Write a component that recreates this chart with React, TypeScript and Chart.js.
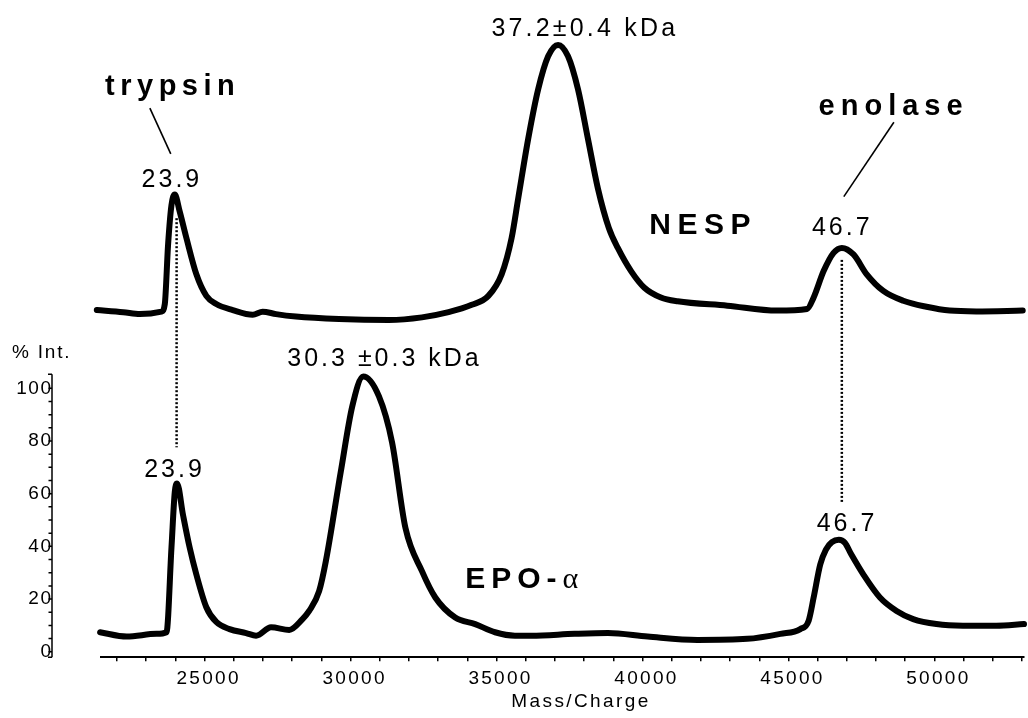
import React, { useEffect, useRef } from "react";
import { Chart, registerables } from "chart.js";

Chart.register(...registerables);

const FONT = '"Liberation Sans", Arial, Helvetica, sans-serif';
const SERIF = '"Liberation Serif", "DejaVu Serif", serif';

// ---- data: NESP trace (upper spectrum, relative intensity) ----
const nespMass = [
  21306, 22214, 22783, 23523, 23636, 23748, 23864, 23977, 24147, 24376,
  24717, 25058, 25399, 25965, 26647, 26988, 27445, 28127, 29604, 31310,
  32445, 33356, 34151, 34720, 35174, 35515, 35743, 36084, 36426, 36767,
  37108, 37449, 37790, 38131, 38472, 38847, 39154, 39608, 40065, 40631,
  41201, 42906, 44611, 45635, 45863, 46204, 46545, 46828, 47227, 47681,
  48250, 48932, 49727, 50522, 51432, 53025,
];
const nespIntensity = [
  6.3, 5.5, 4.8, 5.7, 8.5, 30.3, 44.8, 48.7, 42.4, 32.7,
  19.4, 11.5, 8.5, 6.3, 4.6, 5.7, 4.8, 3.9, 3.0, 2.65,
  3.6, 5.5, 8.2, 11.5, 19.4, 32.7, 47.3, 69.1, 87.3, 99.4,
  103.6, 99.4, 87.3, 69.1, 50.9, 36.4, 29.1, 20.6, 14.5, 10.9,
  9.5, 7.9, 6.1, 6.7, 10.9, 20.6, 27.3, 29.1, 26.7, 19.4,
  13.3, 9.7, 7.5, 6.1, 5.8, 6.1,
];

// ---- data: EPO-alpha trace (lower spectrum, % Int.) ----
const epoMass = [
  21419, 22330, 23353, 23694, 23864, 23977, 24055, 24260, 24488, 24717,
  25058, 25399, 25853, 26422, 26763, 27275, 27899, 28353, 28581, 28922,
  29151, 29662, 30058, 30433, 30969, 31422, 31879, 32445, 32902, 33584,
  34267, 34949, 35631, 36197, 37677, 38813, 40177, 41882, 43588, 44724,
  45406, 45692, 45863, 46088, 46283, 46488, 46726, 46931, 47150, 47568,
  48134, 48704, 49273, 50068, 50979, 52114, 53069,
];
const epoIntensity = [
  7.4, 5.75, 6.8, 7.4, 39.5, 60.6, 63.9, 51.9, 39.5, 29.3,
  16.9, 11.3, 8.6, 7.1, 6.1, 9.3, 8.3, 12.4, 15.5, 23.0,
  34.3, 68.2, 93.2, 104.5, 97.0, 79.4, 47.0, 30.6, 20.6, 13.0,
  10.5, 7.4, 6.1, 6.1, 6.8, 7.1, 5.75, 4.5, 4.9, 6.8,
  8.6, 11.8, 20.6, 33.1, 38.8, 41.6, 42.5, 41.4, 37.0, 29.3,
  20.6, 15.5, 12.4, 10.5, 9.9, 9.9, 10.5,
];

// ---- ticks ----
const xTickValues = [
  22000, 23000, 24000, 25000, 26000, 27000, 28000, 29000, 30000, 31000,
  32000, 33000, 34000, 35000, 36000, 37000, 38000, 39000, 40000, 41000,
  42000, 43000, 44000, 45000, 46000, 47000, 48000, 49000, 50000, 51000,
  52000, 53000,
];
const xTickLabels = [25000, 30000, 35000, 40000, 45000, 50000];
const yTickLabels = [0, 20, 40, 60, 80, 100];
const yMinorTicks = [0, 5, 10, 15, 20, 25, 30, 35, 40, 45, 50, 55, 60, 65, 70, 75, 80, 85, 90, 95, 100];

// ---- annotations (data coordinates) ----
type Note = {
  text: string;
  x: number;
  y: number;
  axis: "y" | "y2";
  size: number;
  bold: boolean;
  spacing: number;
  tail?: string;
};
const notes: Note[] = [
  { text: "trypsin", x: 21589, y: 85.1, axis: "y2", size: 29, bold: true, spacing: 5.5 },
  { text: "23.9", x: 22841, y: 51.5, axis: "y2", size: 25, bold: false, spacing: 3 },
  { text: "37.2\u00b10.4 kDa", x: 34823, y: 106.9, axis: "y2", size: 25, bold: false, spacing: 3.2 },
  { text: "NESP", x: 40235, y: 34.2, axis: "y2", size: 30, bold: true, spacing: 6.5 },
  { text: "enolase", x: 46033, y: 77.8, axis: "y2", size: 29, bold: true, spacing: 6 },
  { text: "46.7", x: 45805, y: 33.7, axis: "y2", size: 25, bold: false, spacing: 3 },
  { text: "30.3 \u00b10.3 kDa", x: 27831, y: 108.3, axis: "y", size: 25, bold: false, spacing: 3 },
  { text: "23.9", x: 22930, y: 66.5, axis: "y", size: 25, bold: false, spacing: 3 },
  { text: "EPO-", x: 33925, y: 24.3, axis: "y", size: 30, bold: true, spacing: 6, tail: "\u03b1" },
  { text: "46.7", x: 45966, y: 45.9, axis: "y", size: 25, bold: false, spacing: 3 },
];

type Seg = { x1: number; y1: number; a1: "y" | "y2"; x2: number; y2: number; a2: "y" | "y2"; dotted: boolean };
const segments: Seg[] = [
  { x1: 23124, y1: 80.4, a1: "y2", x2: 23840, y2: 63.6, a2: "y2", dotted: false },
  { x1: 48611, y1: 75.2, a1: "y2", x2: 46896, y2: 47.9, a2: "y2", dotted: false },
  { x1: 24040, y1: 40, a1: "y2", x2: 24040, y2: 77.6, a2: "y", dotted: true },
  { x1: 46828, y1: 24.7, a1: "y2", x2: 46828, y2: 56.8, a2: "y", dotted: true },
];

const X_MIN = 21450;
const X_MAX = 53069;
const Y_MIN = -2.07;
const Y_MAX = 243.6;
const Y2_MIN = -121.1;
const Y2_MAX = 116.4;
const Y_AXIS_TOP = 105.3;
const Y_AXIS_X = 52;

const overlayPlugin = {
  id: "overlay",
  beforeDraw(chart: any) {
    (chart.ctx as any).letterSpacing = "2.3px";
  },
  afterDraw(chart: any) {
    const ctx = chart.ctx as any;
    const xs = chart.scales.x;
    const sc: any = { y: chart.scales.y, y2: chart.scales.y2 };
    const area = chart.chartArea;
    ctx.save();
    ctx.fillStyle = "#000";
    ctx.strokeStyle = "#000";

    // custom left axis for lower spectrum
    const ys = sc.y;
    const top = ys.getPixelForValue(Y_AXIS_TOP);
    const bot = area.bottom;
    ctx.lineWidth = 1.5;
    ctx.beginPath();
    ctx.moveTo(Y_AXIS_X, top);
    ctx.lineTo(Y_AXIS_X, bot);
    ctx.moveTo(Y_AXIS_X, top);
    ctx.lineTo(Y_AXIS_X - 4, top);
    ctx.moveTo(Y_AXIS_X, bot);
    ctx.lineTo(Y_AXIS_X - 4, bot);
    yMinorTicks.forEach((v) => {
      const py = ys.getPixelForValue(v);
      ctx.moveTo(Y_AXIS_X, py);
      ctx.lineTo(Y_AXIS_X - 3.5, py);
    });
    ctx.stroke();

    ctx.letterSpacing = "1.5px";
    ctx.font = `19px ${FONT}`;
    ctx.textAlign = "right";
    ctx.textBaseline = "middle";
    yTickLabels.forEach((v) => {
      ctx.fillText(String(v), Y_AXIS_X + 0.5, ys.getPixelForValue(v));
    });

    ctx.letterSpacing = "1.8px";
    ctx.font = `19px ${FONT}`;
    ctx.textAlign = "left";
    ctx.fillText("% Int.", 12, ys.getPixelForValue(113.6));

    // x axis title
    ctx.letterSpacing = "2.4px";
    ctx.font = `19px ${FONT}`;
    ctx.textAlign = "left";
    ctx.textBaseline = "middle";
    ctx.fillText("Mass/Charge", xs.getPixelForValue(35505), area.bottom + 45);

    // leader and dotted lines
    segments.forEach((s) => {
      ctx.beginPath();
      if (s.dotted) {
        ctx.setLineDash([2, 2]);
        ctx.lineWidth = 2.5;
      } else {
        ctx.setLineDash([]);
        ctx.lineWidth = 1.6;
      }
      ctx.moveTo(xs.getPixelForValue(s.x1), sc[s.a1].getPixelForValue(s.y1));
      ctx.lineTo(xs.getPixelForValue(s.x2), sc[s.a2].getPixelForValue(s.y2));
      ctx.stroke();
    });
    ctx.setLineDash([]);

    // text annotations
    ctx.textAlign = "left";
    ctx.textBaseline = "alphabetic";
    notes.forEach((n) => {
      ctx.letterSpacing = `${n.spacing}px`;
      ctx.font = `${n.bold ? "bold " : ""}${n.size}px ${FONT}`;
      const px = xs.getPixelForValue(n.x);
      const py = sc[n.axis].getPixelForValue(n.y);
      ctx.fillText(n.text, px, py);
      if (n.tail) {
        const w = ctx.measureText(n.text).width;
        ctx.letterSpacing = "0px";
        ctx.font = `${n.size}px ${SERIF}`;
        ctx.fillText(n.tail, px + w, py);
      }
    });
    ctx.restore();
  },
};

export default function App() {
  const canvasRef = useRef<HTMLCanvasElement | null>(null);

  useEffect(() => {
    const canvas = canvasRef.current;
    if (!canvas) return;
    const lineStyle = {
      borderColor: "#000",
      borderWidth: 6,
      pointRadius: 0,
      fill: false,
      cubicInterpolationMode: "monotone" as const,
      borderJoinStyle: "round" as const,
      borderCapStyle: "round" as const,
      clip: false as const,
    };
    const chart = new Chart(canvas, {
      type: "line",
      data: {
        datasets: [
          {
            label: "NESP",
            data: nespMass.map((m, i) => ({ x: m, y: nespIntensity[i] })),
            yAxisID: "y2",
            ...lineStyle,
          },
          {
            label: "EPO-\u03b1",
            data: epoMass.map((m, i) => ({ x: m, y: epoIntensity[i] })),
            yAxisID: "y",
            ...lineStyle,
          },
        ],
      },
      options: {
        responsive: false,
        animation: false,
        devicePixelRatio: 1,
        layout: { padding: { left: 101, right: 0, top: 10, bottom: 22 } },
        plugins: {
          legend: { display: false },
          tooltip: { enabled: false },
          title: { display: false },
        },
        scales: {
          x: {
            type: "linear",
            min: X_MIN,
            max: X_MAX,
            afterBuildTicks: (scale: any) => {
              scale.ticks = xTickValues.map((v) => ({ value: v }));
            },
            ticks: {
              autoSkip: false,
              maxRotation: 0,
              padding: 6,
              labelOffset: 4,
              color: "#000",
              font: { family: FONT, size: 19 },
              callback: (v: any) => (xTickLabels.includes(Number(v)) ? String(v) : ""),
            },
            grid: {
              drawOnChartArea: false,
              drawTicks: true,
              tickLength: 4,
              color: "#000",
              lineWidth: 1.5,
            },
            border: { display: true, color: "#000", width: 2 },
          },
          y: { type: "linear", display: false, min: Y_MIN, max: Y_MAX },
          y2: { type: "linear", display: false, min: Y2_MIN, max: Y2_MAX },
        },
      } as any,
      plugins: [overlayPlugin],
    });
    return () => chart.destroy();
  }, []);

  return (
    <div style={{ position: "absolute", left: 0, top: 0, width: 1028, height: 718, background: "#fff" }}>
      <canvas ref={canvasRef} width={1028} height={718} style={{ display: "block" }} />
    </div>
  );
}
